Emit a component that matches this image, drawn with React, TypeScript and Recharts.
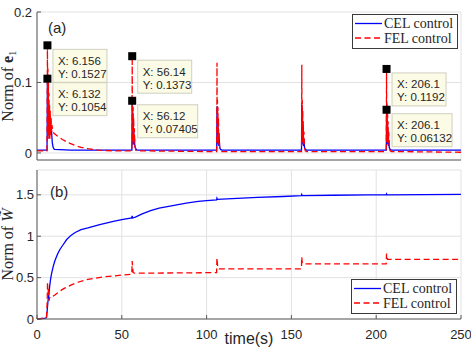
import React from "react";
import { LineChart, Line, XAxis, YAxis, CartesianGrid, Legend, ReferenceDot } from "recharts";

// time ticks shared by both panels
const timeTicks = [0, 50, 100, 150, 200, 250];
const e1Ticks = [0, 0.1, 0.2];
const wTicks = [0, 0.5, 1, 1.5];

// (a) norm of e1, [time, value]
const celE1: [number, number][] = [
  [0, 0.004], [5.9, 0.004], [6.0, 0.03], [6.132, 0.1054], [6.3, 0.02], [6.45, 0.09], [6.6, 0.03], [6.75, 0.075],
  [6.9, 0.025], [7.05, 0.06], [7.2, 0.03], [7.4, 0.05], [7.6, 0.03], [7.8, 0.045], [8.0, 0.035], [8.3, 0.04],
  [8.6, 0.03], [9.0, 0.015], [9.5, 0.008], [10.2, 0.005], [20, 0.004],
  [55.95, 0.004], [56.05, 0.03], [56.12, 0.07405], [56.25, 0.015], [56.4, 0.055], [56.55, 0.015], [56.7, 0.045],
  [56.85, 0.012], [57.0, 0.03], [57.2, 0.012], [57.4, 0.022], [57.7, 0.01], [58.2, 0.006], [59, 0.004],
  [105.95, 0.004], [106.05, 0.025], [106.12, 0.066], [106.25, 0.015], [106.4, 0.05], [106.55, 0.015], [106.7, 0.04],
  [106.85, 0.012], [107.0, 0.028], [107.2, 0.01], [107.4, 0.02], [107.7, 0.008], [108.2, 0.005], [109, 0.004],
  [155.95, 0.004], [156.05, 0.025], [156.12, 0.068], [156.25, 0.015], [156.4, 0.05], [156.55, 0.015], [156.7, 0.04],
  [156.85, 0.012], [157.0, 0.028], [157.2, 0.01], [157.4, 0.02], [157.7, 0.008], [158.2, 0.005], [159, 0.004],
  [205.95, 0.004], [206.02, 0.025], [206.1, 0.06132], [206.25, 0.015], [206.4, 0.048], [206.55, 0.015], [206.7, 0.038],
  [206.85, 0.012], [207.0, 0.026], [207.2, 0.01], [207.4, 0.018], [207.7, 0.008], [208.2, 0.005], [209, 0.004],
  [250, 0.004],
];

const felE1: [number, number][] = [
  [0, 0.003], [5.9, 0.003], [6.0, 0.05], [6.156, 0.1527], [6.3, 0.02], [6.45, 0.12], [6.6, 0.025], [6.75, 0.1],
  [6.9, 0.03], [7.05, 0.085], [7.2, 0.02], [7.4, 0.07], [7.6, 0.02], [7.8, 0.06], [8.0, 0.025], [8.3, 0.05],
  [8.6, 0.03], [8.8, 0.04], [9.2, 0.032], [10, 0.028], [12, 0.024], [15, 0.019], [18, 0.015], [22, 0.011],
  [26, 0.008], [30, 0.006], [36, 0.004], [45, 0.003],
  [55.95, 0.003], [56.05, 0.05], [56.14, 0.1373], [56.25, 0.015], [56.4, 0.075], [56.55, 0.015], [56.7, 0.065],
  [56.85, 0.015], [57.0, 0.05], [57.2, 0.012], [57.4, 0.035], [57.7, 0.01], [58.2, 0.004], [59, 0.003], [100, 0.002],
  [105.95, 0.002], [106.05, 0.05], [106.14, 0.128], [106.25, 0.015], [106.4, 0.075], [106.55, 0.015], [106.7, 0.065],
  [106.85, 0.015], [107.0, 0.05], [107.2, 0.012], [107.4, 0.03], [107.7, 0.008], [108.2, 0.003], [109, 0.002],
  [155.95, 0.002], [156.05, 0.05], [156.14, 0.125], [156.25, 0.015], [156.4, 0.075], [156.55, 0.015], [156.7, 0.06],
  [156.85, 0.015], [157.0, 0.045], [157.2, 0.012], [157.4, 0.03], [157.7, 0.008], [158.2, 0.003], [159, 0.002],
  [205.95, 0.002], [206.02, 0.05], [206.1, 0.1192], [206.25, 0.015], [206.4, 0.07], [206.55, 0.015], [206.7, 0.06],
  [206.85, 0.015], [207.0, 0.045], [207.2, 0.012], [207.4, 0.03], [207.7, 0.008], [208.2, 0.003], [209, 0.002],
  [250, 0.001],
];

// (b) norm of W~
const celW: [number, number][] = [
  [0, 0], [5, 0.01], [5.6, 0.02], [6.0, 0.1], [6.5, 0.22], [7.0, 0.3], [7.5, 0.4], [8.0, 0.48], [8.5, 0.54],
  [9.5, 0.63], [10.5, 0.7], [12, 0.78], [13.5, 0.84], [15.5, 0.9], [17.5, 0.96], [20, 1.01], [22.5, 1.045],
  [26, 1.08], [30, 1.1], [37, 1.14], [45, 1.18], [50, 1.2], [55.8, 1.22], [56.1, 1.245], [56.4, 1.22],
  [58, 1.23], [62, 1.27], [67, 1.31], [72, 1.34], [80, 1.37], [88, 1.4], [95, 1.42], [100, 1.43],
  [105.9, 1.44], [106.1, 1.46], [106.4, 1.445], [115, 1.455], [130, 1.47], [145, 1.48], [155.9, 1.49],
  [156.1, 1.505], [156.4, 1.49], [175, 1.495], [195, 1.5], [205.9, 1.5], [206.1, 1.512], [206.4, 1.5], [250, 1.505],
];

const felW: [number, number][] = [
  [0, 0], [5, 0.01], [5.6, 0.02], [6.0, 0.2], [6.2, 0.45], [6.5, 0.3], [6.8, 0.38], [7.1, 0.22], [7.5, 0.26],
  [8, 0.25], [9, 0.27], [10.5, 0.29], [13, 0.33], [16, 0.37], [20, 0.41], [25, 0.45], [30, 0.48], [40, 0.51],
  [50, 0.53], [55.9, 0.54], [56.1, 0.7], [56.4, 0.62], [56.7, 0.56], [57.5, 0.553], [105.9, 0.56], [106.1, 0.74],
  [106.4, 0.66], [106.7, 0.61], [107.5, 0.605], [155.9, 0.605], [156.1, 0.75], [156.4, 0.68], [156.7, 0.665],
  [205.9, 0.665], [206.1, 0.79], [206.4, 0.74], [206.7, 0.72], [250, 0.72],
];

// data tips in panel (a)
const tipX = [6.156, 6.132, 56.14, 56.12, 206.1, 206.1];
const tipY = [0.1527, 0.1054, 0.1373, 0.07405, 0.1192, 0.06132];
const tipXLabel = ["6.156", "6.132", "56.14", "56.12", "206.1", "206.1"];
const tipYLabel = ["0.1527", "0.1054", "0.1373", "0.07405", "0.1192", "0.06132"];

const toRows = (pts: [number, number][]) => pts.map(([t, v]) => ({ t, v }));

const SANS = "'Liberation Sans', Arial, sans-serif";
const SERIF = "'Liberation Serif', 'Times New Roman', serif";
const AXIS = "#5a5a5a";
const GRID = "#e2e2e2";
const TXT = "#262626";

const LegendBox = (props: any) => {
  const items = props.payload || [];
  return (
    <svg width={106} height={35} style={{ display: "block" }}>
      <rect x={0.5} y={0.5} width={105} height={34} fill="#fff" stroke="#3a3a3a" strokeWidth={1} />
      {items.map((it: any, i: number) => {
        const y = 9.5 + i * 14.5;
        return (
          <g key={i}>
            <line x1={3} x2={30} y1={y} y2={y} stroke={it.color} strokeWidth={1.3}
              strokeDasharray={it.payload?.strokeDasharray} />
            <text x={32} y={y} dominantBaseline="central" fontFamily={SERIF} fontSize={14} fill={TXT}>
              {it.value}
            </text>
          </g>
        );
      })}
    </svg>
  );
};

const DataTip = (i: number) => (p: any) => {
  const cx = p.cx;
  const cy = p.cy;
  const xs = `X: ${tipXLabel[i]}`;
  const ys = `Y: ${tipYLabel[i]}`;
  const w = Math.max(xs.length, ys.length) * 6;
  const bx = cx + 5.5;
  const by = cy + 4;
  return (
    <g>
      <rect x={bx} y={by} width={w} height={33} fill="#fbfbe6" stroke="#cfcfc0" strokeWidth={1} />
      <text x={bx + 5} y={by + 11.5} dominantBaseline="central" fontFamily={SANS} fontSize={11.5} fill={TXT}>{xs}</text>
      <text x={bx + 5} y={by + 24.5} dominantBaseline="central" fontFamily={SANS} fontSize={11.5} fill={TXT}>{ys}</text>
      <rect x={cx - 4} y={cy - 4} width={8} height={8} fill="#000" />
    </g>
  );
};

const yLabel = (kind: "e" | "w") => (p: any) => {
  const vb = p.viewBox || { x: 7, y: 0, width: 30, height: 0 };
  const cy = vb.y + vb.height / 2;
  return (
    <text x={13} y={cy} transform={`rotate(-90, 13, ${cy})`} textAnchor="middle"
      fontFamily={SERIF} fontSize={16} fill={TXT}>
      {kind === "e" ? (
        <>
          Norm of <tspan fontWeight="bold">e</tspan>
          <tspan fontSize={11} dy={3}>1</tspan>
        </>
      ) : (
        <>
          Norm of <tspan fontStyle="italic">W̃</tspan>
        </>
      )}
    </text>
  );
};

const xLabel = (p: any) => {
  const vb = p.viewBox || { x: 37, y: 154, width: 424, height: 29 };
  return (
    <text x={vb.x + vb.width / 2} y={vb.y + 25} textAnchor="middle" fontFamily={SANS} fontSize={16} fill={TXT}>
      time(s)
    </text>
  );
};

const tickStyle = { fontFamily: SANS, fontSize: 13, fill: TXT };

export default function App() {
  const celE1Rows = toRows(celE1);
  const felE1Rows = toRows(felE1);
  const celWRows = toRows(celW);
  const felWRows = toRows(felW);

  return (
    <div style={{ position: "absolute", left: 0, top: 0, width: 471, height: 348, background: "#fff", overflow: "hidden" }}>
      <div style={{ position: "absolute", left: 0, top: 0 }}>
        <LineChart width={471} height={165} margin={{ top: 12, right: 10, bottom: 0, left: 7 }}>
          <CartesianGrid stroke={GRID} />
          <XAxis dataKey="t" type="number" domain={[0, 250]} ticks={timeTicks} interval={0} height={5}
            tick={false} tickSize={-4} stroke={AXIS} allowDataOverflow />
          <XAxis xAxisId="top" orientation="top" type="number" domain={[0, 250]} ticks={timeTicks} interval={0}
            height={0} tick={false} tickSize={-4} stroke={AXIS} />
          <YAxis type="number" domain={[-0.01, 0.2]} ticks={e1Ticks} interval={0} width={30} tickSize={-4}
            tickMargin={9} tick={tickStyle} stroke={AXIS} allowDataOverflow label={yLabel("e")} />
          <YAxis yAxisId="right" orientation="right" type="number" domain={[-0.01, 0.2]} ticks={e1Ticks}
            interval={0} width={0} tick={false} tickSize={-4} stroke={AXIS} />
          <Legend layout="vertical" align="center" verticalAlign="middle" content={LegendBox}
            wrapperStyle={{ left: 352, top: 14, width: 106, height: 35 }} />
          <Line data={celE1Rows} dataKey="v" name="CEL control" type="linear" stroke="#0000ff" strokeWidth={1.3}
            dot={false} activeDot={false} isAnimationActive={false} />
          <Line data={felE1Rows} dataKey="v" name="FEL control" type="linear" stroke="#ff0000" strokeWidth={1.3}
            strokeDasharray="6 3.5" dot={false} activeDot={false} isAnimationActive={false} />
          {tipX.map((x, i) => (
            <ReferenceDot key={i} x={x} y={tipY[i]} r={4} shape={DataTip(i)} />
          ))}
        </LineChart>
      </div>

      <div style={{ position: "absolute", left: 0, top: 165 }}>
        <LineChart width={471} height={183} margin={{ top: 5, right: 10, bottom: 0, left: 7 }}>
          <CartesianGrid stroke={GRID} />
          <XAxis dataKey="t" type="number" domain={[0, 250]} ticks={timeTicks} interval={0} height={29}
            tickSize={-4} tickMargin={15} tick={tickStyle} stroke={AXIS} label={xLabel} />
          <XAxis xAxisId="top" orientation="top" type="number" domain={[0, 250]} ticks={timeTicks} interval={0}
            height={0} tick={false} tickSize={-4} stroke={AXIS} />
          <YAxis type="number" domain={[0, 1.8]} ticks={wTicks} interval={0} width={30} tickSize={-4}
            tickMargin={7} tick={tickStyle} stroke={AXIS} label={yLabel("w")} />
          <YAxis yAxisId="right" orientation="right" type="number" domain={[0, 1.8]} ticks={wTicks}
            interval={0} width={0} tick={false} tickSize={-4} stroke={AXIS} />
          <Legend layout="vertical" align="center" verticalAlign="middle" content={LegendBox}
            wrapperStyle={{ left: 351, top: 114, width: 106, height: 35 }} />
          <Line data={celWRows} dataKey="v" name="CEL control" type="linear" stroke="#0000ff" strokeWidth={1.3}
            dot={false} activeDot={false} isAnimationActive={false} />
          <Line data={felWRows} dataKey="v" name="FEL control" type="linear" stroke="#ff0000" strokeWidth={1.3}
            strokeDasharray="6 3.5" dot={false} activeDot={false} isAnimationActive={false} />
        </LineChart>
      </div>

      <div style={{ position: "absolute", left: 48, top: 20, fontFamily: SANS, fontSize: 15, lineHeight: "15px", color: TXT }}>
        (a)
      </div>
      <div style={{ position: "absolute", left: 50, top: 184, fontFamily: SANS, fontSize: 15, lineHeight: "15px", color: TXT }}>
        (b)
      </div>
    </div>
  );
}
